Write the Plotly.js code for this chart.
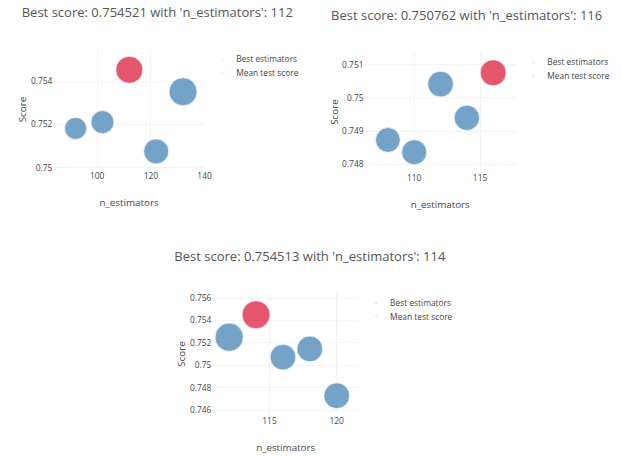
<!DOCTYPE html>
<html>
<head>
<meta charset="utf-8">
<script src="https://cdn.plot.ly/plotly-3.0.1.min.js"></script>
<style>
  html, body { margin: 0; padding: 0; background: #fff; overflow: hidden; }
  #wrap { width: 622px; height: 457px; overflow: hidden; }
  #chart { transform: scale(0.7); transform-origin: 0 0; }
</style>
</head>
<body>
<div id="wrap"><div id="chart"></div></div>
<script>
// Grid-search results: n_estimators tried, mean CV test score, CV score spread
const estimatorsA = [92, 102, 112, 122, 132];
const scoresA     = [0.75182, 0.75211, 0.754521, 0.75076, 0.75351];
const spreadA     = [0.0022, 0.0023, 0.0027, 0.0025, 0.0028];

const estimatorsB = [108, 110, 112, 114, 116];
const scoresB     = [0.74873, 0.74836, 0.75042, 0.74940, 0.750762];
const spreadB     = [0.00247, 0.0025, 0.00257, 0.00253, 0.0026];

const estimatorsC = [112, 114, 116, 118, 120];
const scoresC     = [0.75251, 0.754513, 0.75072, 0.75146, 0.74728];
const spreadC     = [0.00283, 0.0028, 0.00257, 0.00257, 0.00257];

const bestName = 'Best estimators';
const meanName = 'Mean test score';
const xLabel = 'n_estimators';
const yLabel = 'Score';

// page is drawn at a larger size and shrunk uniformly
const S = 0.7;
const PW = 622, PH = 457;
const W = PW / S, H = PH / S;

const red = 'rgb(221,45,75)';
const blue = 'rgb(83,140,186)';
const textColor = '#444';
const titleColor = '#555';
const SIZEREF = 0.00007;

// panel boxes in final page pixels, plus axis ranges and tick steps
const panels = [
  { x: estimatorsA, y: scoresA, s: spreadA, box: { l: 53, r: 205, t: 49, b: 170 },
    xr: [83.6, 140.2], yr: [0.7499, 0.75548], xd: 20, yd: 0.002, title: { x: 157, y: 12 } },
  { x: estimatorsB, y: scoresB, s: spreadB, box: { l: 364, r: 516, t: 52, b: 172 },
    xr: [106.2, 117.75], yr: [0.74776, 0.75139], xd: 5, yd: 0.001, title: { x: 466, y: 15 } },
  { x: estimatorsC, y: scoresC, s: spreadC, box: { l: 212, r: 359, t: 293, b: 415 },
    xr: [110.73, 121.67], yr: [0.74555, 0.75645], xd: 5, yd: 0.002, title: { x: 310, y: 256 } }
];

const traces = [];
const layout = {
  width: W, height: H,
  margin: { l: 0, r: 0, t: 0, b: 0 },
  paper_bgcolor: '#fff', plot_bgcolor: '#fff',
  font: { family: '"Open Sans", verdana, arial, sans-serif', size: 12, color: textColor },
  showlegend: true,
  annotations: []
};

panels.forEach((p, i) => {
  const n = i === 0 ? '' : String(i + 1);
  const xa = 'x' + n, ya = 'y' + n;
  const legendId = 'legend' + n;

  // best = highest mean test score
  let bi = 0;
  p.y.forEach((v, k) => { if (v > p.y[bi]) bi = k; });
  const rest = p.x.map((_, k) => k).filter(k => k !== bi);

  traces.push({
    type: 'scatter', mode: 'markers', name: bestName,
    x: [p.x[bi]], y: [p.y[bi]], xaxis: xa, yaxis: ya, legend: legendId,
    marker: { color: red, opacity: 0.8, size: [p.s[bi]], sizeref: SIZEREF, sizemode: 'diameter' }
  });
  traces.push({
    type: 'scatter', mode: 'markers', name: meanName,
    x: rest.map(k => p.x[k]), y: rest.map(k => p.y[k]), xaxis: xa, yaxis: ya, legend: legendId,
    marker: { color: blue, opacity: 0.8, size: rest.map(k => p.s[k]), sizeref: SIZEREF, sizemode: 'diameter' }
  });

  const b = p.box;
  const dx = [b.l / PW, b.r / PW];
  const dy = [1 - b.b / PH, 1 - b.t / PH];

  layout['xaxis' + n] = {
    domain: dx, range: p.xr, dtick: p.xd, tick0: 0, anchor: ya,
    gridcolor: '#eee', zeroline: false, showline: false, ticks: '',
    tickfont: { size: 12, color: textColor },
    title: { text: xLabel, font: { size: 14, color: textColor } }
  };
  layout['yaxis' + n] = {
    domain: dy, range: p.yr, dtick: p.yd, tick0: 0, anchor: xa,
    gridcolor: '#eee', zeroline: false, showline: false, ticks: '',
    tickfont: { size: 12, color: textColor },
    title: { text: yLabel, font: { size: 14, color: textColor } }
  };
  layout[legendId] = {
    x: dx[1] + 0.02 * (dx[1] - dx[0]), y: dy[1],
    xanchor: 'left', yanchor: 'top',
    font: { size: 12, color: textColor }, bgcolor: 'rgba(0,0,0,0)'
  };
  layout.annotations.push({
    xref: 'paper', yref: 'paper', showarrow: false,
    x: p.title.x / PW, y: 1 - p.title.y / PH, xanchor: 'center', yanchor: 'middle',
    text: 'Best score: ' + p.y[bi].toFixed(6) + " with 'n_estimators': " + p.x[bi],
    font: { size: 18.6, color: titleColor }
  });
});

Plotly.newPlot('chart', traces, layout, { displayModeBar: false, staticPlot: true });
</script>
</body>
</html>
